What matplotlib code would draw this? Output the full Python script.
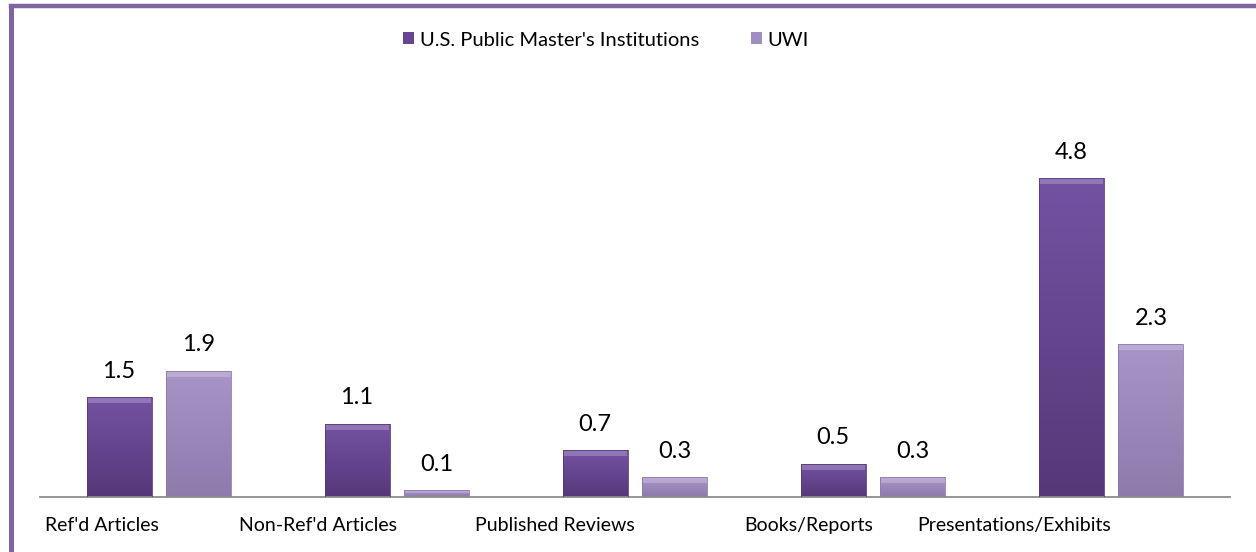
import numpy as np
import matplotlib.pyplot as plt
from matplotlib.lines import Line2D
from matplotlib.colors import LinearSegmentedColormap

plt.rcParams['font.family'] = ['Lato', 'DejaVu Sans']

categories = ["Ref'd Articles", "Non-Ref'd Articles", "Published Reviews",
              "Books/Reports", "Presentations/Exhibits"]
us_public = [1.5, 1.1, 0.7, 0.5, 4.8]
uwi = [1.9, 0.1, 0.3, 0.3, 2.3]
series_names = ["U.S. Public Master's Institutions", "UWI"]

dark = "#664593"
light = "#a18dc1"
frame = "#8064a2"

fig = plt.figure(figsize=(12.56, 5.52), dpi=100)
ax = fig.add_axes([40 / 1256, 55 / 552, 1190 / 1256, 432 / 552])

x = np.arange(len(categories))
w = 0.273
off = 0.168


def shaded(bars, c_top, c_bot):
    # vertical gradient clipped to each bar + lighter bevel along the top
    cmap = LinearSegmentedColormap.from_list("g", [c_bot, c_top])
    for b in bars:
        x0, y0 = b.get_x(), b.get_y()
        bw, bh = b.get_width(), b.get_height()
        grad = np.linspace(0, 1, 64).reshape(-1, 1)
        im = ax.imshow(grad, cmap=cmap, origin="lower", aspect="auto",
                       extent=[x0, x0 + bw, y0, y0 + bh], zorder=2)
        im.set_clip_path(b)
        bev = min(0.09, bh * 0.35)
        ax.bar(x0 + bw / 2, bev, bw * 0.98, bottom=y0 + bh - bev,
               color="white", alpha=0.22, zorder=3, linewidth=0)
        ax.bar(x0 + bw / 2, bh, bw, color="none", edgecolor=c_bot,
               linewidth=0.6, zorder=4)


b1 = ax.bar(x - off, us_public, w, color=dark, zorder=1,
            label=series_names[0])
b2 = ax.bar(x + off, uwi, w, color=light, zorder=1, label=series_names[1])
shaded(b1, "#7452a3", "#563879")
shaded(b2, "#a994c8", "#8e7aab")

for xs, vals in ((x - off, us_public), (x + off, uwi)):
    for xi, v in zip(xs, vals):
        ax.text(xi, v + 0.39, f"{v:.1f}", ha="center", va="center",
                fontsize=17, color="black")

ax.set_xlim(-0.5, len(categories) - 0.5)
ax.set_ylim(0, 6.5)
ax.set_yticks([])
ax.set_xticks([])
for s in ("top", "right", "left"):
    ax.spines[s].set_visible(False)
ax.spines["bottom"].set_color("#8c8c8c")
ax.spines["bottom"].set_linewidth(1.3)

for xi, lab in zip(x, categories):
    ax.text(xi, -0.43, lab, ha="right", va="center", fontsize=14,
            color="black")

fig.legend(handles=[b1, b2], labels=series_names, loc="center",
           bbox_to_anchor=(606 / 1256, 1 - 40 / 552), ncol=2, frameon=False,
           fontsize=14.5, handlelength=0.55, handleheight=0.55,
           handletextpad=0.25, columnspacing=2.6)

fig.add_artist(Line2D([11 / 1256, 1.0], [1 - 5.5 / 552, 1 - 5.5 / 552],
                      transform=fig.transFigure, color=frame, linewidth=3.2))
fig.add_artist(Line2D([11 / 1256, 11 / 1256], [0.0, 1 - 5.5 / 552],
                      transform=fig.transFigure, color=frame, linewidth=3.6))

plt.savefig("out.png", dpi=100)
